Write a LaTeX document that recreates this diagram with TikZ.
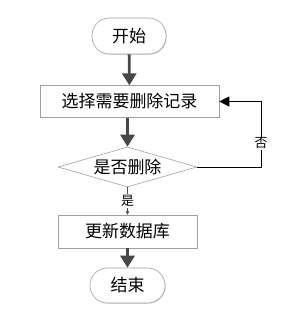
\documentclass[tikz,border=0pt]{standalone}
\usepackage{fontspec}
\setmainfont{Noto Sans CJK SC}
\usepackage{tikz}
\usetikzlibrary{shapes.geometric, arrows.meta, shadows}

\begin{document}
\begin{tikzpicture}[
    every node/.style={font=\fontsize{14.5}{17}\selectfont},
    term/.style={rectangle, draw=gray!75, rounded corners=0.52cm, line width=0.5pt, fill=white,
                 minimum width=2.22cm, minimum height=1.08cm, inner sep=0pt,
                 drop shadow={shadow xshift=0.6pt, shadow yshift=-0.6pt, fill=gray!35, opacity=1}},
    procbox/.style={rectangle, draw=gray!75, line width=0.5pt, fill=white, inner sep=0pt,
                    minimum height=0.95cm,
                    drop shadow={shadow xshift=0.6pt, shadow yshift=-0.6pt, fill=gray!35, opacity=1}},
    decide/.style={diamond, draw=gray!75, line width=0.5pt, fill=white, inner sep=0pt,
                   aspect=3.5, minimum width=4.17cm, minimum height=1.2cm},
    flow/.style={-{Triangle[length=0.36cm, width=0.42cm]}, line width=2.4pt, draw=black!72},
    back/.style={-{Triangle[length=0.3cm, width=0.3cm]}, line width=0.6pt, draw=black},
    thin/.style={-{Triangle[length=0.1cm, width=0.1cm]}, line width=0.5pt, draw=black!70},
    lbl/.style={font=\fontsize{11}{13}\selectfont, fill=white, inner sep=1pt}
]
\useasboundingbox (0,0) rectangle (8.82,9.51);

% === Start / select ===
\node[term] (start) at (3.87, 8.43) {开始};
\node[procbox, minimum width=5.37cm] (sel) at (3.885, 6.465) {选择需要删除记录};
\draw[flow] (start) -- (sel);

% === Decision ===
\node[decide] (ask) at (3.825, 4.5) {是否删除};
\draw[flow] (sel.south -| ask.north) -- (ask.north);

\coordinate (loop) at (7.83, 4.5);
\draw[back] (ask.east) -- (loop) -- node[lbl, pos=0.36] {否} (loop |- sel.east) -- (sel.east);

% === Update / end ===
\node[procbox, minimum width=4.17cm, minimum height=0.99cm] (upd) at (3.825, 2.565) {更新数据库};
\draw[thin] (ask.south) -- node[lbl] {是} (upd.north);

\node[term, minimum width=2.25cm, minimum height=1.05cm] (stop) at (3.825, 0.945) {结束};
\draw[flow] (upd) -- (stop);

\end{tikzpicture}
\end{document}
